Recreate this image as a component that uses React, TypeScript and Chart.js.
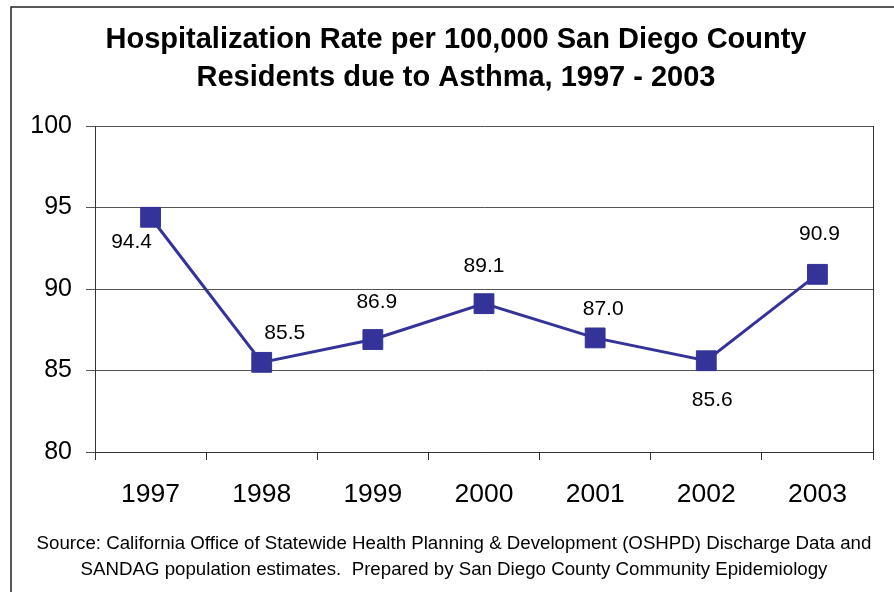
import React, { useEffect, useRef } from "react";
import { Chart, registerables } from "chart.js";

Chart.register(...registerables);

const years = ["1997", "1998", "1999", "2000", "2001", "2002", "2003"];
const rates = [94.4, 85.5, 86.9, 89.1, 87.0, 85.6, 90.9];
const titleLines = [
  "Hospitalization Rate per 100,000 San Diego County",
  "Residents due to Asthma, 1997 - 2003",
];
const sourceLines = [
  "Source: California Office of Statewide Health Planning & Development (OSHPD) Discharge Data and",
  "SANDAG population estimates.  Prepared by San Diego County Community Epidemiology",
];
const yMin = 80;
const yMax = 100;
const yStep = 5;

const FONT = "'Liberation Sans', Arial, Helvetica, sans-serif";
const LINE_COLOR = "#333399";

// label placement relative to each point (style only)
const labelPlacement: [number, number][] = [
  [-19, 25],
  [23, -29],
  [4, -37],
  [0, -37],
  [8, -29],
  [6, 39],
  [2, -40],
];

const framePlugin = {
  id: "frame",
  afterLayout(chart: any) {
    // center title / source text the way the original does
    chart.boxes.forEach((b: any) => {
      if (b && b.options && b.options.text !== undefined && b.options.font) {
        if (b.options.position === "top") {
          b.left = 37;
          b.right = 875;
        } else if (b.options.position === "bottom") {
          b.left = 14;
          b.right = 894;
        }
        b.width = b.right - b.left;
      }
    });
  },
  beforeDraw(chart: any) {
    const ctx = chart.ctx;
    ctx.save();
    ctx.fillStyle = "#ffffff";
    ctx.fillRect(0, 0, chart.width, chart.height);
    ctx.strokeStyle = "#222222";
    ctx.lineWidth = 1.5;
    ctx.strokeRect(11, 7, chart.width + 20, chart.height + 20);
    ctx.restore();
  },
  afterDatasetsDraw(chart: any) {
    const ctx = chart.ctx;
    const a = chart.chartArea;
    ctx.save();
    ctx.strokeStyle = "#333333";
    ctx.lineWidth = 1;
    ctx.beginPath();
    ctx.moveTo(Math.round(a.right) + 0.5, a.top);
    ctx.lineTo(Math.round(a.right) + 0.5, a.bottom);
    ctx.stroke();
    // data labels
    const meta = chart.getDatasetMeta(0);
    const data = chart.data.datasets[0].data;
    ctx.fillStyle = "#000000";
    ctx.font = `21px ${FONT}`;
    ctx.textAlign = "center";
    ctx.textBaseline = "middle";
    meta.data.forEach((pt: any, i: number) => {
      const [dx, dy] = labelPlacement[i] || [0, -30];
      ctx.fillText(Number(data[i]).toFixed(1), pt.x + dx, pt.y + dy);
    });
    ctx.restore();
  },
};

export default function App() {
  const ref = useRef<HTMLCanvasElement>(null);
  useEffect(() => {
    document.body.style.margin = "0";
    const chart = new Chart(ref.current as HTMLCanvasElement, {
      type: "line",
      data: {
        labels: years,
        datasets: [
          {
            data: rates,
            borderColor: LINE_COLOR,
            backgroundColor: LINE_COLOR,
            borderWidth: 3,
            pointStyle: "rect",
            pointRadius: 14,
            pointBorderWidth: 1,
            pointBackgroundColor: LINE_COLOR,
            pointBorderColor: LINE_COLOR,
            tension: 0,
          },
        ],
      },
      options: {
        responsive: false,
        animation: false,
        layout: { padding: { left: 0, right: 21, top: 0, bottom: 9 } },
        plugins: {
          legend: { display: false },
          tooltip: { enabled: false },
          title: {
            display: true,
            text: titleLines,
            color: "#000000",
            font: { family: FONT, size: 29, weight: "bold", lineHeight: 38 / 29 },
            padding: { top: 21, bottom: 29 },
          },
          subtitle: {
            display: true,
            position: "bottom",
            text: sourceLines,
            color: "#000000",
            font: { family: FONT, size: 18.7, lineHeight: 26 / 18.7 },
            padding: { top: 0, bottom: 0 },
          },
        },
        scales: {
          x: {
            offset: true,
            grid: {
              offset: true,
              drawOnChartArea: false,
              drawTicks: true,
              tickLength: 8,
              color: "#333333",
            },
            border: { display: true, color: "#333333", width: 1 },
            ticks: {
              color: "#000000",
              font: { family: FONT, size: 26.5 },
              padding: 19,
              maxRotation: 0,
            },
            afterFit(scale: any) {
              scale.height = 79;
            },
          },
          y: {
            min: yMin,
            max: yMax,
            grid: {
              color: "#555555",
              lineWidth: 1,
              drawTicks: true,
              tickLength: 9,
            },
            border: { display: true, color: "#333333", width: 1 },
            ticks: {
              stepSize: yStep,
              color: "#000000",
              font: { family: FONT, size: 25 },
              padding: 14,
            },
            afterFit(scale: any) {
              scale.width = 95;
            },
          },
        },
      },
      plugins: [framePlugin],
    } as any);
    return () => chart.destroy();
  }, []);
  return (
    <div style={{ width: 894, height: 592 }}>
      <canvas ref={ref} width={894} height={592} style={{ display: "block" }} />
    </div>
  );
}
